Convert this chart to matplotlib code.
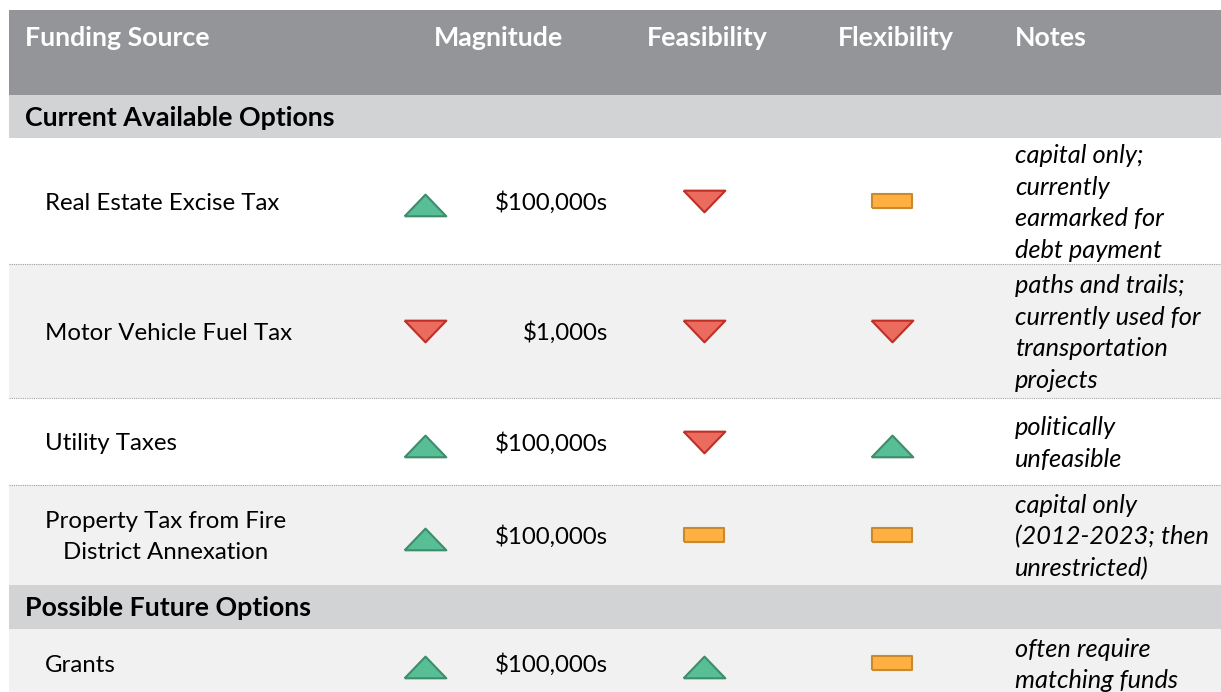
import matplotlib.pyplot as plt
from matplotlib.patches import Rectangle

# table content
headers = ["Funding Source", "Magnitude", "Feasibility", "Flexibility", "Notes"]
sections = ["Current Available Options", "Possible Future Options"]
sources = ["Real Estate Excise Tax", "Motor Vehicle Fuel Tax", "Utility Taxes",
           "Property Tax from Fire\nDistrict Annexation", "Grants"]
magnitude = ["up", "down", "up", "up", "up"]
magnitude_text = ["$100,000s", "$1,000s", "$100,000s", "$100,000s", "$100,000s"]
feasibility = ["down", "down", "down", "mid", "up"]
flexibility = ["mid", "down", "up", "mid", "mid"]
notes = ["capital only;\ncurrently\nearmarked for\ndebt payment",
         "paths and trails;\ncurrently used for\ntransportation\nprojects",
         "politically\nunfeasible",
         "capital only\n(2012-2023; then\nunrestricted)",
         "often require\nmatching funds"]

plt.rcParams['font.family'] = ['Lato', 'DejaVu Sans']

W, H = 1221, 692
fig = plt.figure(figsize=(W / 100, H / 100), dpi=100)
ax = fig.add_axes([0, 0, 1, 1])
ax.set_xlim(0, W)
ax.set_ylim(H, 0)
ax.axis('off')

left = 9
fs = 17.3       # body text
fs_head = 19.3  # bold header / section text
fs_note = 18.3  # italic notes

# layout (pixel rows)
header_band = (10, 95)
section_bands = [(95, 138), (585, 629)]
row_bands = [(138, 264), (264, 398), (398, 485), (485, 585), (629, 697)]
row_bg = ['white', '#f1f1f1', 'white', '#f1f1f1', '#f1f1f1']

col_header_x = [25, 499, 707, 896, 1015]
col_header_ha = ['left', 'center', 'center', 'center', 'left']
src_x = 45
mag_icon_x = 425
mag_text_x = 608
feas_x = 704
flex_x = 892
notes_x = 1015

# header
ax.add_patch(Rectangle((left, header_band[0]), W - left, header_band[1] - header_band[0],
                       color='#939598', lw=0))
for h, x, ha in zip(headers, col_header_x, col_header_ha):
    ax.text(x, 38, h, ha=ha, va='center', color='white', fontsize=fs_head, fontweight='bold')

# sections
for name, (y0, y1) in zip(sections, section_bands):
    ax.add_patch(Rectangle((left, y0), W - left, y1 - y0, color='#d1d3d4', lw=0))
    ax.text(25, (y0 + y1) / 2 + 1.5, name, ha='left', va='center', color='black',
            fontsize=fs_head, fontweight='bold')

# row backgrounds and separators
for (y0, y1), bg in zip(row_bands, row_bg):
    ax.add_patch(Rectangle((left, y0), W - left, y1 - y0, color=bg, lw=0))
ax.hlines([264, 398, 485], left, W, colors='#a0a0a0', linestyles=(0, (1, 1)), lw=0.8)

# icon markers
up_tri = [(-1, -0.71), (1, -0.71), (0, 0.33), (-1, -0.71)]
down_tri = [(-1, 0.52), (1, 0.52), (0, -0.52), (-1, 0.52)]
bar = [(-1, -0.36), (1, -0.36), (1, 0.36), (-1, 0.36), (-1, -0.36)]
icon_style = {
    'up': dict(marker=up_tri, s=30 ** 2, facecolor='#58be96', edgecolor='#3d8c6b'),
    'down': dict(marker=down_tri, s=30 ** 2, facecolor='#eb6b5f', edgecolor='#bf2f26'),
    'mid': dict(marker=bar, s=29 ** 2, facecolor='#ffb040', edgecolor='#c9892e'),
}


def draw_icons(xpos, ratings):
    for kind in ['up', 'down', 'mid']:
        ys = [(b[0] + b[1]) / 2 for b, r in zip(row_bands, ratings) if r == kind]
        if ys:
            ax.scatter([xpos] * len(ys), ys, linewidths=1.5, zorder=3, **icon_style[kind])


draw_icons(mag_icon_x, magnitude)
draw_icons(feas_x, feasibility)
draw_icons(flex_x, flexibility)

# row text
for i, (y0, y1) in enumerate(row_bands):
    yc = (y0 + y1) / 2 + 2
    ax.text(src_x, yc, sources[i], ha='left', va='center', fontsize=fs,
            multialignment='center', linespacing=1.53, color='black')
    ax.text(mag_text_x, yc, magnitude_text[i], ha='right', va='center', fontsize=fs, color='black')
    ax.text(notes_x, yc, notes[i], ha='left', va='center', fontsize=fs_note, style='italic',
            linespacing=1.45, color='black')

fig.savefig('out.png', dpi=100, facecolor='white')
